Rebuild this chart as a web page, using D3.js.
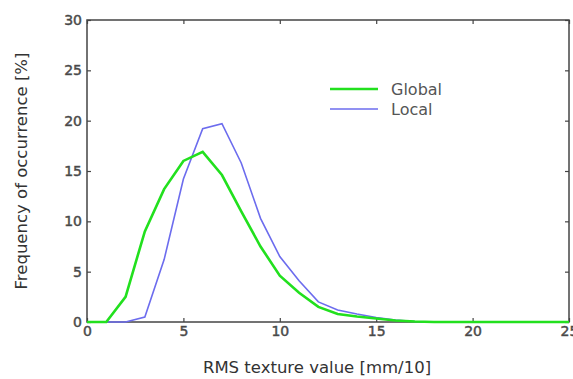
<!DOCTYPE html>
<html>
<head>
<meta charset="utf-8">
<script src="https://cdn.jsdelivr.net/npm/d3@7"></script>
<style>
body { margin: 0; background: #fff; }
text { font-family: "DejaVu Sans", Verdana, sans-serif; }
</style>
</head>
<body>
<svg id="graph" width="573" height="379"></svg>
<script>
// data
const xVals = [0, 1, 2, 3, 4, 5, 6, 7, 8, 9, 10, 11, 12, 13, 14, 15, 16, 17, 18, 19, 20, 21, 22, 23, 24, 25]
const globalVals = [0, 0, 2.5, 9, 13.2, 16, 16.9, 14.6, 11, 7.5, 4.6, 2.9, 1.5, 0.8, 0.55, 0.35, 0.15, 0.05, 0, 0, 0, 0, 0, 0, 0, 0]
const localVals = [0, 0, 0, 0.5, 6.2, 14.2, 19.2, 19.7, 15.8, 10.3, 6.5, 4.1, 2.0, 1.2, 0.8, 0.45, 0.2, 0.05, 0, 0, 0]
const xTicks = [0, 5, 10, 15, 20, 25]
const yTicks = [0, 5, 10, 15, 20, 25, 30]
const seriesNames = ['Global', 'Local']
const seriesColors = ['#22e01e', '#6c6cee']

var svg = d3.select('#graph')
const m = {left: 87, right: 4, top: 20, bottom: 57}
const w = +svg.attr('width'), h = +svg.attr('height')

const x = d3.scaleLinear().domain([0, 25]).range([m.left, w - m.right])
const y = d3.scaleLinear().domain([0, 30]).range([h - m.bottom, m.top])

// frame
svg.append('rect')
    .attr('x', x(0)).attr('y', y(30))
    .attr('width', x(25) - x(0)).attr('height', y(0) - y(30))
    .attr('fill', 'none').attr('stroke', '#444').attr('stroke-width', 1.5)

// axes with inward ticks
const axisStyle = g => {
    g.select('.domain').remove()
    g.selectAll('.tick line').attr('stroke', '#444').attr('stroke-width', 1.2)
    g.selectAll('.tick text').attr('fill', '#444').attr('font-size', 14)
        .attr('stroke', '#555').attr('stroke-width', 0.5)
}
svg.append('g').attr('transform', `translate(0,${y(0)})`)
    .call(d3.axisBottom(x).tickValues(xTicks).tickSizeInner(-4).tickPadding(4))
    .call(axisStyle)
svg.append('g').attr('transform', `translate(0,${y(30)})`)
    .call(d3.axisTop(x).tickValues(xTicks).tickSizeInner(-4).tickFormat(''))
    .call(axisStyle)
svg.append('g').attr('transform', `translate(${x(0)},0)`)
    .call(d3.axisLeft(y).tickValues(yTicks).tickSizeInner(-4).tickPadding(5))
    .call(axisStyle)
svg.append('g').attr('transform', `translate(${x(25)},0)`)
    .call(d3.axisRight(y).tickValues(yTicks).tickSizeInner(-4).tickFormat(''))
    .call(axisStyle)

// lines
const line = d3.line().x((d, i) => x(xVals[i])).y(d => y(d))
svg.append('path').datum(localVals)
    .attr('d', line).attr('fill', 'none')
    .attr('stroke', seriesColors[1]).attr('stroke-width', 1.6)
svg.append('path').datum(globalVals)
    .attr('d', line).attr('fill', 'none')
    .attr('stroke', seriesColors[0]).attr('stroke-width', 2.6)

// legend
const leg = svg.append('g').attr('transform', 'translate(330,89)')
seriesNames.forEach((name, i) => {
    leg.append('line')
        .attr('x1', 0).attr('x2', 48).attr('y1', i * 20).attr('y2', i * 20)
        .attr('stroke', seriesColors[i]).attr('stroke-width', i === 0 ? 2.4 : 1.6)
    leg.append('text')
        .attr('x', 61).attr('y', i * 20 + 6)
        .attr('font-size', 16).attr('fill', '#555')
        .text(name)
})

// axis titles
svg.append('text')
    .attr('x', 317).attr('y', 373)
    .attr('text-anchor', 'middle').attr('font-size', 16.5).attr('fill', '#333')
    .text('RMS texture value [mm/10]')
svg.append('text')
    .attr('transform', 'translate(27,171) rotate(-90)')
    .attr('text-anchor', 'middle').attr('font-size', 16.5).attr('fill', '#333')
    .text('Frequency of occurrence [%]')
</script>
</body>
</html>
